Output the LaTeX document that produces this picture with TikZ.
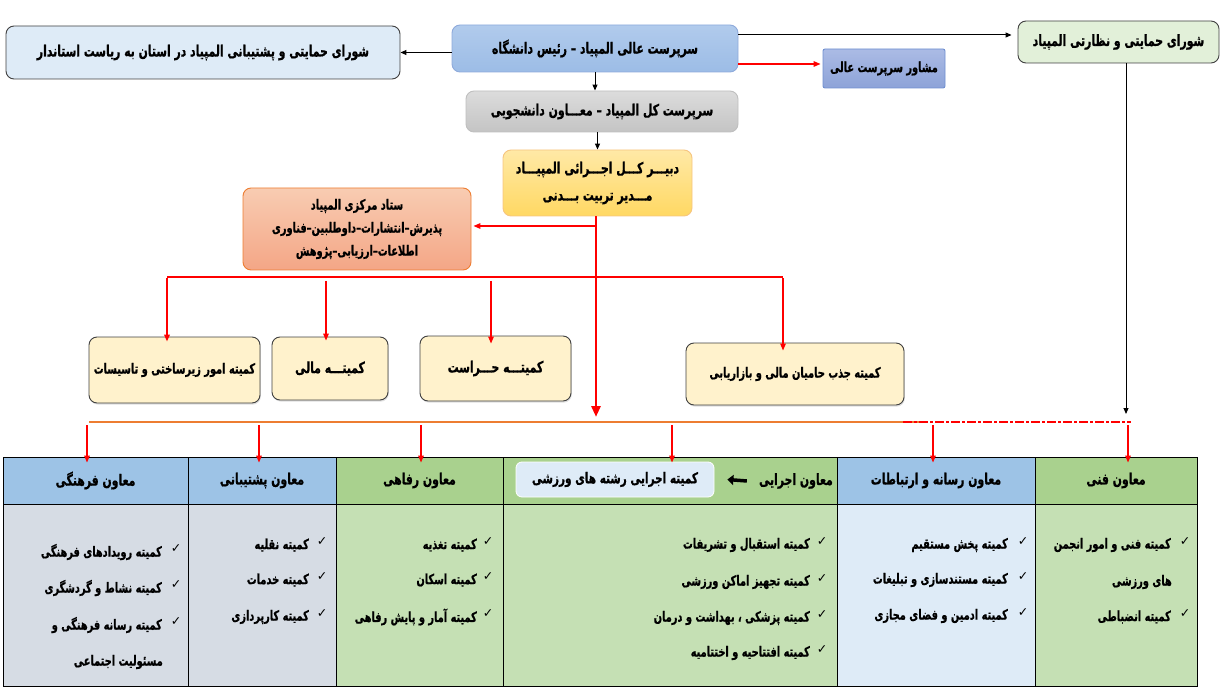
\documentclass[tikz,border=0pt]{standalone}
\usepackage{fontspec}
\usetikzlibrary{arrows.meta,shadows,calc}
\TeXXeTstate=1
\newfontfamily\arabicfont[Script=Arabic,FakeStretch=0.7,BoldFeatures={FakeBold=0.8}]{DejaVu Sans}
\newfontfamily\symfont{DejaVu Sans}
\newcommand\ar[1]{\beginR #1\endR}
\definecolor{bOne}{HTML}{DEEBF7}
\definecolor{bTwoT}{HTML}{B1CBEC}
\definecolor{bTwoB}{HTML}{9CBCE6}
\definecolor{bTwoD}{HTML}{8EAADB}
\definecolor{grT}{HTML}{DCDCDC}
\definecolor{grB}{HTML}{C4C4C4}
\definecolor{grD}{HTML}{BFBFBF}
\definecolor{bFourT}{HTML}{ABBBE5}
\definecolor{bFourB}{HTML}{8DA3D8}
\definecolor{bFourD}{HTML}{6F8FD0}
\definecolor{bFive}{HTML}{E2F0D9}
\definecolor{ylT}{HTML}{FFE9A6}
\definecolor{ylB}{HTML}{FFD863}
\definecolor{ylD}{HTML}{F6C580}
\definecolor{saT}{HTML}{F8CCB2}
\definecolor{saB}{HTML}{F4A686}
\definecolor{orD}{HTML}{ED7D31}
\definecolor{cream}{HTML}{FFF2CC}
\definecolor{dk}{HTML}{404040}
\definecolor{hBlue}{HTML}{9DC3E6}
\definecolor{hGreen}{HTML}{A9D18E}
\definecolor{bGray}{HTML}{D6DCE4}
\definecolor{bGreen}{HTML}{C5E0B4}
\definecolor{bBlue}{HTML}{DEEBF7}
\definecolor{rd}{HTML}{FF0000}
\begin{document}
\begin{tikzpicture}[x=1pt,y=-1pt,
  arfont/.style={font=\arabicfont\bfseries\fontsize{#1}{23}\selectfont},
  box/.style={draw=dk, line width=0.9pt, rounded corners=8pt, inner sep=0pt, align=center, arfont=15.5},
  cmt/.style={box, fill=cream, drop shadow={opacity=0.25, shadow xshift=0.8pt, shadow yshift=-1.6pt}},
  blk/.style={draw=black, line width=1pt, -{Triangle[length=6pt,width=5pt]}},
  redthin/.style={draw=rd, line width=1.3pt, -{Triangle[length=7pt,width=5.5pt]}},
  redbar/.style={draw=rd, line width=2.6pt},
  redtrunk/.style={draw=rd, line width=2.8pt, -{Triangle[length=11pt,width=9pt]}},
  hdr/.style={draw=black, line width=0.9pt, inner sep=0pt, minimum height=47pt, arfont=15.5},
  cell/.style={draw=black, line width=0.9pt, inner sep=0pt, minimum height=182pt},
  item/.style={inner sep=0pt, anchor=east, arfont=14},
  chk/.style={inner sep=0pt, font=\symfont\fontsize{12.5}{13}\selectfont}
]
\useasboundingbox (0,0) rectangle (1224,687);

% ---------- top boxes
\node[box, fill=bOne, minimum width=394pt, minimum height=53pt] (b1) at (203,52.5)
  {\ar{شورای حمایتی و پشتیبانی المپیاد در استان به ریاست استاندار}};
\node[box, draw=bTwoD, top color=bTwoT, bottom color=bTwoB, minimum width=286pt, minimum height=47pt] (b2) at (595,48.5)
  {\ar{سرپرست عالی المپیاد – رئیس  دانشگاه}};
\node[box, draw=grD, top color=grT, bottom color=grB, minimum width=272pt, minimum height=41pt] (b3) at (602,111.5)
  {\ar{سرپرست کل المپیاد – معـــاون دانشجویی}};
\node[box, rounded corners=2pt, draw=bFourD, top color=bFourT, bottom color=bFourB, minimum width=122pt, minimum height=39pt, arfont=14] (b4) at (884,68.5)
  {\ar{مشاور سرپرست عالی}};
\node[box, fill=bFive, minimum width=201pt, minimum height=42pt] (b5) at (1118.5,42)
  {\ar{شورای حمایتی و نظارتی المپیاد}};
\node[box, draw=ylD, top color=ylT, bottom color=ylB, minimum width=189pt, minimum height=66pt] (b6) at (597.5,183)
  {\ar{دبیـــر کـــل اجـــرائی المپیـــاد}\\[4pt] \ar{مـــدیر تربیت بـــدنی}};
\node[box, draw=orD, top color=saT, bottom color=saB, minimum width=228pt, minimum height=82pt, arfont=14] (b7) at (357,229)
  {\ar{ستاد مرکزی المپیاد}\\ \ar{پذیرش–انتشارات–داوطلبین–فناوری}\\ \ar{اطلاعات–ارزیابی–پژوهش}};

% ---------- committees
\node[cmt, minimum width=171pt, minimum height=66pt, arfont=14] (b8) at (174.5,370) {\ar{کمیته امور زیرساختی و تاسیسات}};
\node[cmt, minimum width=116pt, minimum height=63pt] (b9) at (330,368.5) {\ar{کمیتـــه مالی}};
\node[cmt, minimum width=151pt, minimum height=65pt] (b10) at (495.5,368.5) {\ar{کمیتـــه حـــراست}};
\node[cmt, minimum width=218pt, minimum height=62pt, arfont=14] (b11) at (795,374) {\ar{کمیته جذب حامیان مالی و بازاریابی}};

% ---------- top connectors
\draw[blk] (b2.west |- b1.east) -- (b1.east);
\draw[blk] (b2.south) -- (b2.south |- b3.north);
\draw[blk] (b6.north |- b3.south) -- (b6.north);
\coordinate (t1) at (738,35);
\draw[blk] (t1) -- ([xshift=-6pt]b5.west |- t1);
\coordinate (t2) at (738,64);
\draw[redthin] (t2) -- ([xshift=-2pt]b4.west |- t2);
\coordinate (v1) at (1126,414);
\draw[blk] (b5.south -| v1) -- (v1);

% ---------- red tree
\coordinate (tr) at (596,417);
\draw[redtrunk] (b6.south -| tr) -- (tr);
\coordinate (s7) at (596,226);
\draw[redthin] (s7) -- ([xshift=2pt]b7.east |- s7);
\coordinate (hl) at (167,277);
\coordinate (hr) at (783,277);
\draw[redbar] (hl) -- (hr);
\draw[redthin, line width=2pt] ([yshift=-1.3pt]hl) -- ([yshift=-5pt]hl |- b8.north);
\coordinate (m9) at (326,281);
\draw[redthin] (m9) -- ([yshift=-4pt]m9 |- b9.north);
\coordinate (m10) at (491,281);
\draw[redthin] (m10) -- ([yshift=-8pt]m10 |- b10.north);
\draw[redthin] ([yshift=-1.3pt]hr) -- ([yshift=-8pt]hr |- b11.north);

% ---------- bottom bus
\coordinate (o1) at (89,422);
\coordinate (o2) at (925,422);
\coordinate (o3) at (903,422);
\coordinate (o4) at (1131,422);
\draw[orD, line width=2pt] (o1) -- (o2);
\draw[rd, line width=1.3pt, dash pattern=on 9pt off 2pt on 3pt off 2pt] (o3) -- (o4);

% ---------- table
\node[cell, fill=bGray,  minimum width=185pt] (c1) at (95.5,595) {};
\node[cell, fill=bGray,  minimum width=148pt] (c2) at (262,595) {};
\node[cell, fill=bGreen, minimum width=167pt] (c3) at (419.5,595) {};
\node[cell, fill=bGreen, minimum width=334pt] (c4) at (670,595) {};
\node[cell, fill=bBlue,  minimum width=198pt] (c5) at (936,595) {};
\node[cell, fill=bGreen, minimum width=162pt] (c6) at (1116,595) {};
\node[hdr, fill=hBlue,  minimum width=185pt] (h1) at (95.5,480.5) {\ar{معاون فرهنگی}};
\node[hdr, fill=hBlue,  minimum width=148pt] (h2) at (262,480.5) {\ar{معاون پشتیبانی}};
\node[hdr, fill=hGreen, minimum width=167pt] (h3) at (419.5,480.5) {\ar{معاون رفاهی}};
\node[hdr, fill=hGreen, minimum width=334pt] (h4) at (670,480.5) {};
\node[hdr, fill=hBlue,  minimum width=198pt] (h5) at (936,480.5) {\ar{معاون رسانه و ارتباطات}};
\node[hdr, fill=hGreen, minimum width=162pt] (h6) at (1116,480.5) {\ar{معاون فنی}};
\node[inner sep=0pt, anchor=east, arfont=15.5] (h4t) at (833,481) {\ar{معاون اجرایی}};
\node[draw=white, line width=0.8pt, fill=bBlue, rounded corners=6pt, minimum width=198pt, minimum height=35pt, inner sep=0pt, arfont=15] (h4b) at (615,479.5)
  {\ar{کمیته اجرایی رشته های ورزشی}};
\draw[black, line width=3.5pt, -{Triangle[length=6pt,width=10pt]}] ([xshift=-12pt]h4t.west) -- ([xshift=13pt]h4b.east);

% arrows into header
\foreach \x/\h [count=\i] in {87/h1,259/h2,421/h3,672/h4,933/h5,1128/h6}{
  \coordinate (a\i) at (\x,425);
  \draw[redthin] (a\i) -- ([yshift=-6pt]a\i |- \h.north);
}

% ---------- items col1
\node[item] (i11) at (162,552) {\ar{کمیته رویدادهای فرهنگی}};
\node[chk]  (k11) at (176,549) {✓};
\node[item] (i12) at (162,588) {\ar{کمیته نشاط و گردشگری}};
\node[chk]  (k12) at (176,585) {✓};
\node[item] (i13) at (162,625) {\ar{کمیته رسانه فرهنگی و}};
\node[chk]  (k13) at (176,622) {✓};
\node[item] (i14) at (163,662) {\ar{مسئولیت اجتماعی}};
% col2
\node[item] (i21) at (309,545) {\ar{کمیته نقلیه}};
\node[chk]  (k21) at (322,542) {✓};
\node[item] (i22) at (309,580) {\ar{کمیته خدمات}};
\node[chk]  (k22) at (322,577) {✓};
\node[item] (i23) at (309,617) {\ar{کمیته کارپردازی}};
\node[chk]  (k23) at (322,614) {✓};
% col3
\node[item] (i31) at (477,545) {\ar{کمیته تغذیه}};
\node[chk]  (k31) at (488,542) {✓};
\node[item] (i32) at (477,580) {\ar{کمیته اسکان}};
\node[chk]  (k32) at (488,577) {✓};
\node[item] (i33) at (477,617) {\ar{کمیته آمار و پایش رفاهی}};
\node[chk]  (k33) at (488,614) {✓};
% col4
\node[item] (i41) at (810,545) {\ar{کمیته استقبال و تشریفات}};
\node[chk]  (k41) at (822,542) {✓};
\node[item] (i42) at (810,582) {\ar{کمیته تجهیز اماکن ورزشی}};
\node[chk]  (k42) at (822,579) {✓};
\node[item] (i43) at (810,618) {\ar{کمیته پزشکی ، بهداشت و درمان}};
\node[chk]  (k43) at (822,615) {✓};
\node[item] (i44) at (810,653) {\ar{کمیته افتتاحیه و اختتامیه}};
\node[chk]  (k44) at (822,650) {✓};
% col5
\node[item] (i51) at (1008,545) {\ar{کمیته پخش مستقیم}};
\node[chk]  (k51) at (1023,542) {✓};
\node[item] (i52) at (1008,580) {\ar{کمیته مستندسازی و تبلیغات}};
\node[chk]  (k52) at (1023,577) {✓};
\node[item] (i53) at (1008,616) {\ar{کمیته ادمین و فضای مجازی}};
\node[chk]  (k53) at (1023,613) {✓};
% col6
\node[item] (i61) at (1171,545) {\ar{کمیته فنی و امور انجمن}};
\node[chk]  (k61) at (1185,542) {✓};
\node[item] (i62) at (1172,582) {\ar{های ورزشی}};
\node[item] (i63) at (1171,617) {\ar{کمیته انضباطی}};
\node[chk]  (k63) at (1185,614) {✓};
\end{tikzpicture}
\end{document}
